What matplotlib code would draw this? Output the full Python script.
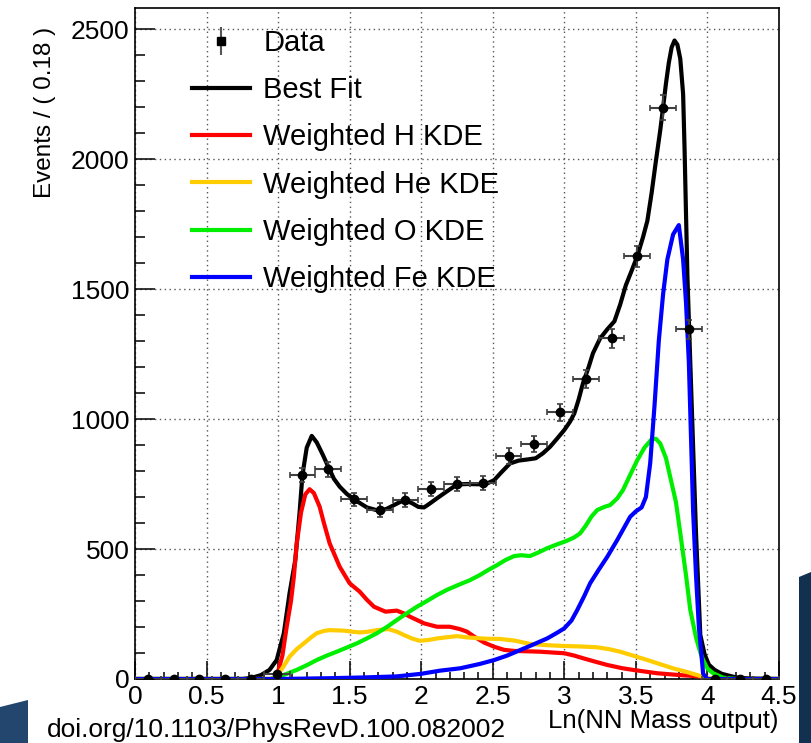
import numpy as np
import matplotlib
matplotlib.use("Agg")
from matplotlib import pyplot as plt
from matplotlib.lines import Line2D
from matplotlib.patches import Polygon
from matplotlib.ticker import MultipleLocator, FormatStrFormatter

#======================================================================
# histogram of the data (bin width 0.18)
bin_centers = [0.09, 0.27, 0.45, 0.63, 0.81, 0.99, 1.17, 1.35, 1.53, 1.71,
               1.89, 2.07, 2.25, 2.43, 2.61, 2.79, 2.97, 3.15, 3.33, 3.51,
               3.69, 3.87, 4.05, 4.23, 4.41]
counts = [0, 0, 0, 0, 0, 20, 785, 806, 691, 650,
          688, 730, 750, 753, 858, 903, 1026, 1153, 1310, 1627,
          2198, 1346, 0, 0, 0]
bin_width = 0.18

# best fit (sum of templates)
fit_x = [0.0, 0.75, 0.82, 0.88, 0.94, 0.99, 1.04, 1.08, 1.12, 1.15, 1.17, 1.20,
         1.235, 1.27, 1.31, 1.35, 1.39, 1.43, 1.48, 1.53, 1.62, 1.71, 1.76,
         1.81, 1.86, 1.89, 1.94, 1.98, 2.02, 2.06, 2.11, 2.18, 2.25, 2.32,
         2.40, 2.46, 2.51, 2.56, 2.62, 2.68, 2.75, 2.80, 2.85, 2.90, 2.95,
         3.00, 3.04, 3.07, 3.10, 3.13, 3.17, 3.20, 3.25, 3.30, 3.35, 3.39,
         3.43, 3.47, 3.51, 3.55, 3.58, 3.61, 3.64, 3.67, 3.69, 3.71, 3.73,
         3.75, 3.77, 3.79, 3.81, 3.83, 3.84, 3.86, 3.89, 3.92, 3.95, 3.98,
         4.01, 4.05, 4.10, 4.20, 4.30, 4.50]
fit_y = [0, 0, 5, 15, 35, 73, 176, 330, 458, 640, 785, 890,
         935, 910, 865, 817, 770, 740, 712, 691, 660, 646, 655,
         669, 683, 688, 675, 662, 660, 675, 695, 722, 748, 750,
         749, 752, 765, 795, 829, 840, 845, 849, 868, 893, 925,
         958, 990, 1022, 1075, 1137, 1200, 1253, 1310, 1345, 1376, 1440,
         1515, 1570, 1627, 1700, 1762, 1870, 1993, 2110, 2198, 2290, 2370,
         2430, 2456, 2440, 2386, 2250, 2042, 1548, 1055, 562, 170, 95,
         55, 35, 20, 6, 2, 0]

# weighted H KDE
h_x = [0.0, 0.95, 0.99, 1.03, 1.06, 1.09, 1.11, 1.13, 1.16, 1.19, 1.22, 1.25,
       1.29, 1.32, 1.36, 1.43, 1.50, 1.57, 1.62, 1.67, 1.75, 1.83, 1.88,
       1.92, 2.02, 2.11, 2.20, 2.27, 2.32, 2.37, 2.44, 2.51, 2.58, 2.65,
       2.83, 3.00, 3.07, 3.13, 3.22, 3.30, 3.40, 3.48, 3.65, 3.81, 3.97,
       4.00, 4.50]
h_y = [0, 0, 9, 90, 201, 300, 393, 520, 640, 710, 730, 715,
       663, 600, 522, 432, 368, 336, 305, 278, 259, 263, 252,
       240, 214, 201, 201, 192, 182, 163, 140, 124, 112, 108,
       105, 99, 90, 80, 66, 54, 42, 35, 22, 15, 9,
       0, 0]

# weighted He KDE
he_x = [0.0, 0.95, 0.99, 1.04, 1.08, 1.13, 1.18, 1.23, 1.27, 1.32, 1.36, 1.46,
        1.52, 1.57, 1.63, 1.69, 1.77, 1.83, 1.88, 1.94, 1.99, 2.05, 2.11,
        2.25, 2.32, 2.45, 2.55, 2.65, 2.76, 2.88, 3.00, 3.12, 3.23, 3.31,
        3.39, 3.48, 3.58, 3.67, 3.76, 3.85, 3.93, 4.00, 4.05, 4.50]
he_y = [0, 0, 10, 50, 86, 115, 137, 160, 176, 185, 188, 186,
        182, 179, 182, 188, 192, 182, 169, 155, 147, 150, 156,
        165, 160, 155, 154, 148, 135, 130, 127, 125, 122, 115,
        105, 90, 73, 57, 41, 28, 15, 3, 0, 0]

# weighted O KDE
o_x = [0.0, 0.95, 0.99, 1.06, 1.13, 1.20, 1.27, 1.34, 1.41, 1.48, 1.55, 1.62,
       1.69, 1.76, 1.83, 1.90, 1.97, 2.04, 2.11, 2.18, 2.26, 2.34, 2.41,
       2.47, 2.53, 2.59, 2.65, 2.70, 2.76, 2.82, 2.88, 2.95, 3.02, 3.07,
       3.11, 3.15, 3.19, 3.23, 3.28, 3.32, 3.37, 3.41, 3.46, 3.51, 3.56,
       3.61, 3.64, 3.67, 3.71, 3.74, 3.78, 3.81, 3.85, 3.88, 3.92, 3.95,
       3.97, 4.00, 4.04, 4.11, 4.20, 4.50]
o_y = [0, 0, 5, 20, 35, 53, 73, 90, 105, 121, 137, 156,
       176, 200, 227, 253, 278, 300, 323, 343, 362, 380, 400,
       420, 438, 458, 473, 476, 473, 487, 503, 518, 532, 545,
       560, 590, 625, 650, 662, 669, 695, 727, 785, 842, 890,
       922, 924, 906, 850, 777, 680, 562, 400, 266, 160, 102,
       73, 40, 22, 5, 0, 0]

# weighted Fe KDE
fe_x = [0.0, 1.00, 1.36, 1.60, 1.83, 2.00, 2.13, 2.27, 2.32, 2.41, 2.51, 2.60,
        2.69, 2.78, 2.88, 2.95, 3.00, 3.05, 3.09, 3.14, 3.18, 3.24, 3.30,
        3.37, 3.46, 3.50, 3.54, 3.57, 3.60, 3.63, 3.66, 3.69, 3.72, 3.76,
        3.80, 3.83, 3.85, 3.87, 3.90, 3.92, 3.94, 3.97, 4.00, 4.50]
fe_y = [0, 0, 3, 6, 10, 20, 32, 41, 47, 58, 73, 90,
        111, 132, 156, 178, 195, 225, 265, 320, 368, 420, 470,
        535, 624, 645, 660, 700, 830, 1050, 1300, 1480, 1614, 1710,
        1746, 1614, 1450, 1220, 644, 400, 201, 20, 0, 0]

#======================================================================
plt.rcParams['font.family'] = ['Liberation Sans', 'DejaVu Sans']

fig = plt.figure(figsize=(8.11, 7.43), dpi=100)
ax = fig.add_axes([135/811., 1 - 679/743., 644/811., 671/743.])

# background pieces of the slide
fig.patches.append(Polygon([[0, 1 - 707/743.], [28/811., 1 - 700/743.],
                            [28/811., 0], [0, 0]],
                           closed=True, transform=fig.transFigure,
                           facecolor='#22466d', edgecolor='none', zorder=-5))
fig.patches.append(Polygon([[799/811., 1 - 577/743.], [1, 1 - 572/743.],
                            [1, 0], [799/811., 0]],
                           closed=True, transform=fig.transFigure,
                           facecolor='#12304f', edgecolor='none', zorder=-5))

lw = 3.0
ax.plot(fit_x, fit_y, color='black', lw=lw, zorder=3)
ax.plot(h_x, h_y, color='#ff0000', lw=lw, zorder=3)
ax.plot(he_x, he_y, color='#ffcc00', lw=lw, zorder=3)
ax.plot(o_x, o_y, color='#00ee00', lw=lw, zorder=3)
ax.plot(fe_x, fe_y, color='#0000ff', lw=lw, zorder=3)

yerr = np.sqrt(np.array(counts, dtype=float))
ax.errorbar(bin_centers, counts, xerr=bin_width / 2, yerr=yerr,
            fmt='o', color='black', ms=6, ecolor='#404040', elinewidth=1.5,
            capsize=2.5, capthick=1.2, zorder=5)

ax.set_xlim(0, 4.5)
ax.set_ylim(0, 2581)
ax.xaxis.set_major_locator(MultipleLocator(0.5))
ax.xaxis.set_minor_locator(MultipleLocator(0.1))
ax.yaxis.set_major_locator(MultipleLocator(500))
ax.yaxis.set_minor_locator(MultipleLocator(100))
ax.xaxis.set_major_formatter(FormatStrFormatter('%g'))

ax.tick_params(axis='both', which='both', direction='in', top=False,
               right=False, width=1.1, labelsize=19, colors='black')
ax.tick_params(axis='x', which='major', length=13, pad=4)
ax.tick_params(axis='x', which='minor', length=5)
ax.tick_params(axis='y', which='major', length=14.5, pad=4)
ax.tick_params(axis='y', which='minor', length=7.5)
for sp in ax.spines.values():
    sp.set_linewidth(1.2)

ax.grid(True, which='major', color='#555555', lw=1.0, linestyle=(0, (1, 2.5)))
ax.set_axisbelow(True)

# legend
data_handle = (Line2D([], [], color='#555555', marker='|', ms=20, mew=1.5,
                      linestyle='none'),
               Line2D([], [], color='black', marker='s', ms=6, linestyle='none'))
handles = [data_handle,
           Line2D([], [], color='black', lw=lw),
           Line2D([], [], color='#ff0000', lw=lw),
           Line2D([], [], color='#ffcc00', lw=lw),
           Line2D([], [], color='#00ee00', lw=lw),
           Line2D([], [], color='#0000ff', lw=lw)]
labels = ['Data', 'Best Fit', 'Weighted H KDE', 'Weighted He KDE',
          'Weighted O KDE', 'Weighted Fe KDE']
ax.legend(handles, labels, loc='upper left', bbox_to_anchor=(0.0885, 0.969),
          frameon=False, borderpad=0, borderaxespad=0, handlelength=2.0,
          handletextpad=0.45, labelspacing=0.66, fontsize=21)

# axis titles, ROOT style (right/top aligned)
fig.text(45/811., 1 - 27/743., 'Events / ( 0.18 )', rotation=90,
         ha='center', va='top', fontsize=17.5)
fig.text(778/811., 1 - 721/743., 'Ln(NN Mass output)', ha='right',
         va='center', fontsize=18.5)
fig.text(47/811., 1 - 737/743., 'doi.org/10.1103/PhysRevD.100.082002',
         ha='left', va='baseline', fontsize=19)

fig.savefig('out.png', dpi=100)
